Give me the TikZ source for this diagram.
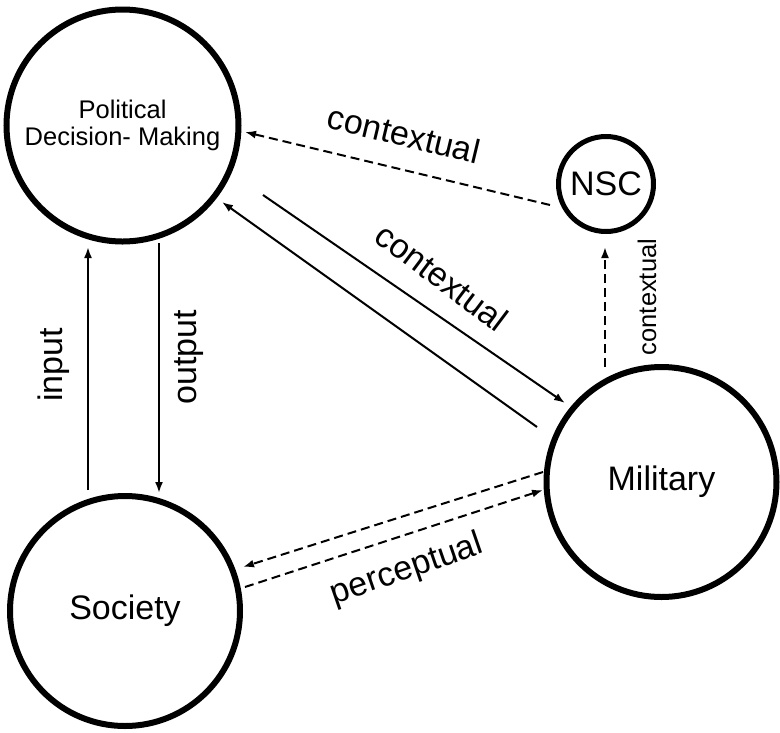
\documentclass[tikz,border=0pt]{standalone}
\usepackage{fontspec}
\setmainfont{Liberation Sans}
\usetikzlibrary{arrows.meta}
\begin{document}
\begin{tikzpicture}[x=1pt,y=-1pt,
  bigc/.style={circle,draw,line width=6pt,inner sep=0pt,align=center,font=\fontsize{34}{40}\selectfont},
  conn/.style={line width=2pt,-{Latex[length=11pt,width=8pt]}},
  dconn/.style={conn,dash pattern=on 9pt off 5pt},
  lbl/.style={font=\fontsize{34}{40}\selectfont,inner sep=0pt},
  slbl/.style={font=\fontsize{25.5}{28}\selectfont,inner sep=0pt}]
\useasboundingbox (0,0) rectangle (780,732);
% circles
\node[bigc,minimum size=232pt,font=\fontsize{25.5}{27}\selectfont] (pdm) at (122.5,125.5) {Political\\Decision- Making};
\node[bigc,minimum size=230pt] (soc) at (125,611) {Society};
\node[bigc,minimum size=230pt] (mil) at (661.5,482) {Military};
\node[bigc,line width=5pt,minimum size=95pt] (nsc) at (606,184) {NSC};
% connector end points
\coordinate (inS) at (88,490);   \coordinate (inE) at (88,247);
\coordinate (outS) at (159,243); \coordinate (outE) at (159,493);
\coordinate (npS) at (550,205);  \coordinate (npE) at (245,132);
\coordinate (pmS) at (263,195);  \coordinate (pmE) at (565,403);
\coordinate (mpS) at (537,427);  \coordinate (mpE) at (222,202);
\coordinate (msS) at (543,472);  \coordinate (msE) at (243,567);
\coordinate (smS) at (245,587);  \coordinate (smE) at (543,490);
\coordinate (mnS) at (605,367);  \coordinate (mnE) at (605,247);
% connectors
\draw[conn] (inS) -- (inE);
\draw[conn] (outS) -- (outE);
\draw[dconn] (npS) -- (npE);
\draw[conn] (pmS) -- (pmE);
\draw[conn] (mpS) -- (mpE);
\draw[dconn] (msS) -- (msE);
\draw[dconn] (smS) -- (smE);
\draw[dconn] (mnS) -- (mnE);
% labels
\node[lbl,rotate=90] (linput) at (54,365) {input};
\node[lbl,rotate=90] (loutput) at (189,357) {output};
\node[lbl,rotate=-13.5] (lctx1) at (404,134) {contextual};
\node[lbl,rotate=-37] (lctx2) at (442,277) {contextual};
\node[lbl,rotate=19] (lperc) at (407,570) {perceptual};
\node[slbl,rotate=90] (lctx3) at (647,297) {contextual};
\end{tikzpicture}
\end{document}
